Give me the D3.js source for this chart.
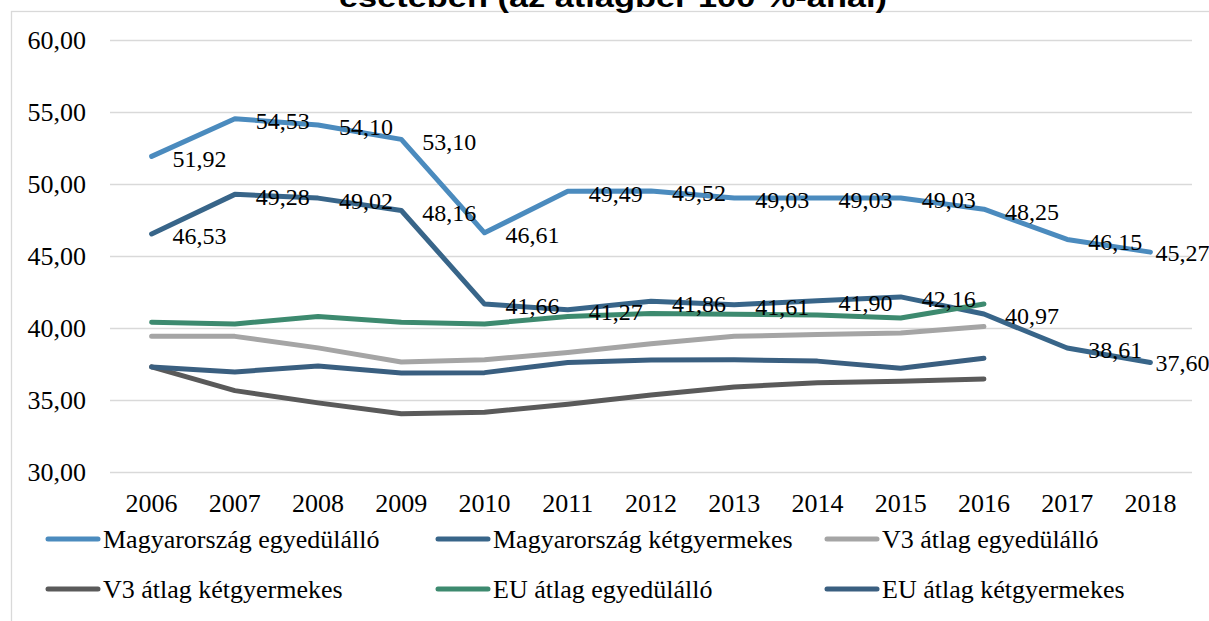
<!DOCTYPE html>
<html>
<head>
<meta charset="utf-8">
<script src="https://cdn.jsdelivr.net/npm/d3@7"></script>
<style>
  html, body { margin: 0; padding: 0; background: #fff; overflow: hidden; }
  text { font-family: "Liberation Serif", "Times New Roman", serif; fill: #000; }
</style>
</head>
<body>
<div id="my_dataviz"></div>
<script>
// * DATA
var years = ["2006","2007","2008","2009","2010","2011","2012","2013","2014","2015","2016","2017","2018"];
var yTicks = [30, 35, 40, 45, 50, 55, 60];

var huSingle = [51.92, 54.53, 54.10, 53.10, 46.61, 49.49, 49.52, 49.03, 49.03, 49.03, 48.25, 46.15, 45.27];
var huTwoKids = [46.53, 49.28, 49.02, 48.16, 41.66, 41.27, 41.86, 41.61, 41.90, 42.16, 40.97, 38.61, 37.60];
var v3Single = [39.42, 39.42, 38.62, 37.64, 37.80, 38.30, 38.90, 39.42, 39.55, 39.65, 40.10];
var v3TwoKids = [37.30, 35.65, 34.80, 34.05, 34.15, 34.70, 35.35, 35.90, 36.20, 36.30, 36.46];
var euSingle = [40.40, 40.28, 40.80, 40.40, 40.28, 40.80, 41.00, 40.95, 40.90, 40.70, 41.67];
var euTwoKids = [37.30, 36.95, 37.36, 36.88, 36.90, 37.60, 37.78, 37.80, 37.70, 37.20, 37.90];

var seriesNames = ["Magyarország egyedülálló", "Magyarország kétgyermekes", "V3 átlag egyedülálló",
                   "V3 átlag kétgyermekes", "EU átlag egyedülálló", "EU átlag kétgyermekes"];
var seriesColors = ["#4b8bbe", "#386589", "#a5a5a5", "#5a5a5a", "#3d8a6f", "#3a5f80"];
var seriesValues = [huSingle, huTwoKids, v3Single, v3TwoKids, euSingle, euTwoKids];
var labelled = [true, true, false, false, false, false];

var titleText = "esetében (az átlagbér 100 %-ánál)";

var W = 1209, H = 621;
var fmt = function(v) { return d3.format(".2f")(v).replace(".", ","); };

var svg = d3.select("#my_dataviz")
  .append("svg")
  .attr("width", W)
  .attr("height", H);

// chart frame (runs off the picture on the right and bottom)
svg.append("rect")
  .attr("x", 11.5).attr("y", 11.5)
  .attr("width", W + 20).attr("height", H + 20)
  .attr("fill", "none")
  .attr("stroke", "#d9d9d9")
  .attr("stroke-width", 1.3);

// title, mostly cut away at the top
svg.append("text")
  .attr("x", 613).attr("y", 7)
  .attr("text-anchor", "middle")
  .attr("textLength", 548)
  .attr("lengthAdjust", "spacingAndGlyphs")
  .style("font-family", "'Liberation Sans', Arial, sans-serif")
  .style("font-weight", "bold")
  .style("font-size", "27px")
  .text(titleText);

// scales
var x = d3.scaleBand()
  .domain(years)
  .range([110, 1192])
  .paddingInner(0).paddingOuter(0);
var xc = function(i) { return x(years[i]) + x.bandwidth() / 2; };

var y = d3.scaleLinear()
  .domain([30, 60])
  .range([472, 40]);

// grid lines + y labels
var yAxis = d3.axisLeft(y)
  .tickValues(yTicks)
  .tickSize(-(1192 - 110))
  .tickPadding(24)
  .tickFormat(fmt);
var YAXIS = svg.append("g")
  .attr("transform", "translate(110,0)")
  .call(yAxis);
YAXIS.select(".domain").remove();
YAXIS.selectAll(".tick line").attr("stroke", "#d9d9d9").attr("stroke-width", 1.3);
YAXIS.selectAll(".tick text")
  .attr("fill", "#000")
  .style("font-size", "26px")
  .style("font-family", "'Liberation Serif', 'Times New Roman', serif");

// x labels
var xAxis = d3.axisBottom(x).tickSize(0).tickPadding(0);
var XAXIS = svg.append("g")
  .attr("transform", "translate(0,472)")
  .call(xAxis);
XAXIS.select(".domain").remove();
XAXIS.selectAll(".tick text")
  .attr("y", 40)
  .attr("dy", 0)
  .attr("fill", "#000")
  .style("font-size", "26px")
  .style("font-family", "'Liberation Serif', 'Times New Roman', serif");

// lines
var line = d3.line()
  .x(function(d, i) { return xc(i); })
  .y(function(d) { return y(d); });

seriesValues.forEach(function(vals, s) {
  svg.append("path")
    .datum(vals)
    .attr("d", line)
    .attr("fill", "none")
    .attr("stroke", seriesColors[s])
    .attr("stroke-width", 5)
    .attr("stroke-linecap", "round")
    .attr("stroke-linejoin", "round");
});

// data labels (right of the point, last one squeezed in at the edge)
seriesValues.forEach(function(vals, s) {
  if (!labelled[s]) return;
  svg.append("g")
    .selectAll("text")
    .data(vals)
    .enter()
    .append("text")
    .attr("x", function(d, i) { return xc(i) + (i == vals.length - 1 ? 5 : 21); })
    .attr("y", function(d, i) { return y(d) + (i == vals.length - 1 ? 0 : 2); })
    .attr("dy", "0.35em")
    .style("font-size", "24px")
    .text(function(d) { return fmt(d); });
});

// legend
var legX = [46, 436, 825], legY = [539, 589];
seriesNames.forEach(function(name, s) {
  var lx = legX[s % 3], ly = legY[Math.floor(s / 3)];
  var g = svg.append("g");
  g.append("line")
    .attr("x1", lx + 2).attr("x2", lx + 52)
    .attr("y1", ly).attr("y2", ly)
    .attr("stroke", seriesColors[s])
    .attr("stroke-width", 5)
    .attr("stroke-linecap", "round");
  g.append("text")
    .attr("x", lx + 57).attr("y", ly)
    .attr("dy", "0.35em")
    .style("font-size", "26px")
    .text(name);
});
</script>
</body>
</html>
